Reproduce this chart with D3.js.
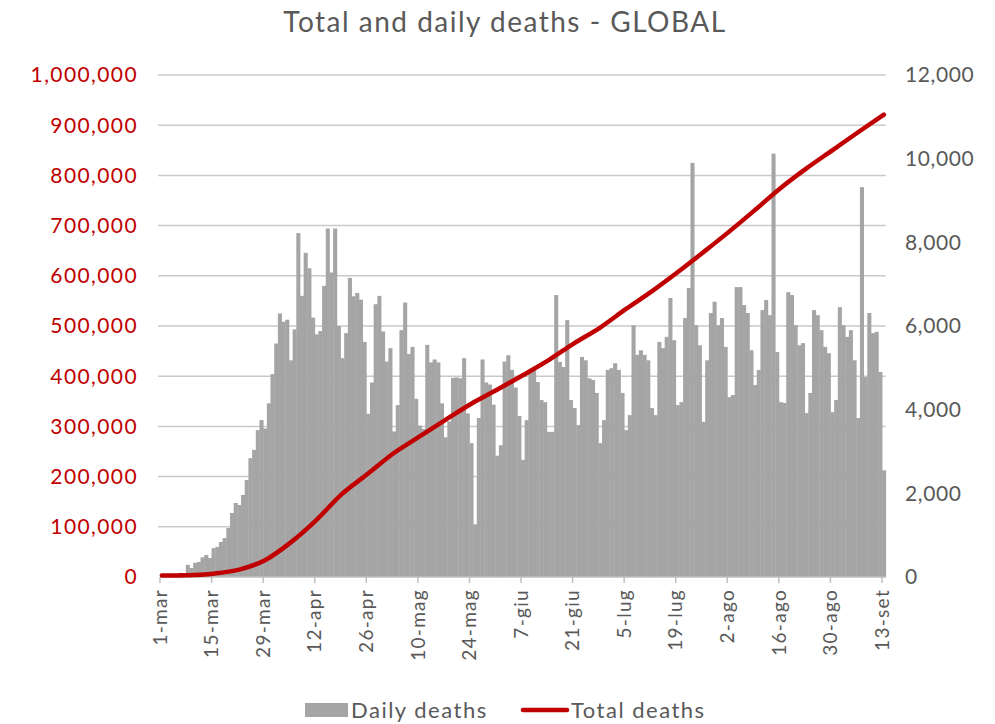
<!DOCTYPE html>
<html>
<head>
<meta charset="utf-8">
<script src="https://cdn.jsdelivr.net/npm/d3@7"></script>
<style>
  body { margin: 0; background: #fff; }
  text { font-family: Lato, "Open Sans", sans-serif; }
</style>
</head>
<body>
<svg id="chart" width="995" height="724"></svg>
<script>
const TITLE = "Total and daily deaths - GLOBAL";

// daily deaths, one per day from 1-mar to 13-set (right axis)
const dailyDeaths = [
  55, 65, 70, 80, 60, 100, 95, 290, 215, 340, 360, 470, 525, 454,
  690, 717, 837, 930, 1170, 1530, 1770, 1720, 1960, 2320, 2840, 3040, 3510, 3750,
  3550, 4150, 4850, 5580, 6300, 6100, 6150, 5180, 5920, 8220, 6720, 7750, 7380, 6200,
  5800, 5880, 6960, 8330, 7280, 8330, 6000, 5230, 5830, 7150, 6710, 6790, 6630, 5620,
  3900, 4650, 6520, 6720, 5870, 5150, 5470, 3480, 4110, 5900, 6560, 5330, 5500, 4260,
  3620, 3540, 5550, 5130, 5200, 5130, 4150, 3340, 3720, 4760, 4770, 4750, 5230, 3910,
  3200, 1260, 3800, 5200, 4650, 4600, 4120, 2900, 3150, 5150, 5300, 4950, 4530, 3850,
  2800, 3750, 4900, 5020, 4660, 4230, 4180, 3470, 3470, 6740, 5140, 5020, 6140, 4230,
  4040, 3630, 5260, 5180, 4750, 4710, 4400, 3200, 3750, 4950, 4990, 5110, 4950, 4400,
  3510, 3870, 6020, 5310, 5420, 5310, 5180, 4040, 3870, 5620, 5470, 5740, 6670, 5660,
  4110, 4180, 6190, 6910, 9900, 6020, 5540, 3710, 5180, 6310, 6580, 6020, 6190, 5500,
  4300, 4350, 6930, 6930, 6500, 6310, 5420, 4590, 4950, 6380, 6620, 6260, 10120, 5380,
  4180, 4160, 6810, 6740, 6020, 5540, 5590, 3920, 4400, 6380, 6260, 5900, 5500, 5350,
  3940, 4230, 6450, 6020, 5740, 5900, 5180, 3800, 9320, 4780, 6310, 5830, 5860, 4900, 2550
];

// total deaths read every 7 days (left axis)
const totalDays = [0, 7, 14, 21, 28, 35, 42, 49, 56, 63, 70, 77, 84, 91, 98, 105,
  112, 119, 126, 133, 140, 147, 154, 161, 168, 175, 182, 189, 196];
const totalDeaths = [3000, 3600, 6600, 14700, 33500, 69000, 114000, 166000, 206000,
  247000, 280000, 313000, 345000, 373000, 402000, 432000, 466000, 497000, 534000,
  569000, 607000, 647000, 688000, 731000, 775000, 814000, 850000, 886000, 921000];

const tickDays = [0, 14, 28, 42, 56, 70, 84, 98, 112, 126, 140, 154, 168, 182, 196];
const tickLabels = ["1-mar", "15-mar", "29-mar", "12-apr", "26-apr", "10-mag", "24-mag",
  "7-giu", "21-giu", "5-lug", "19-lug", "2-ago", "16-ago", "30-ago", "13-set"];

const leftTicks = d3.range(0, 1000001, 100000);
const rightTicks = d3.range(0, 12001, 2000);

const svg = d3.select("#chart");
const plotLeft = 160, plotRight = 885.7, plotTop = 75, plotBottom = 577;

const x = d3.scaleLinear().domain([0, dailyDeaths.length]).range([plotLeft, plotRight]);
const yL = d3.scaleLinear().domain([0, 1000000]).range([plotBottom, plotTop]);
const yR = d3.scaleLinear().domain([0, 12000]).range([plotBottom, plotTop]);
const step = x(1) - x(0);

svg.append("text")
  .attr("x", 505)
  .attr("y", 32)
  .attr("text-anchor", "middle")
  .attr("fill", "#595959")
  .attr("font-size", 28)
  .attr("letter-spacing", 1.5)
  .text(TITLE);

// gridlines
svg.append("g")
  .selectAll("line")
  .data(leftTicks.slice(1))
  .join("line")
  .attr("x1", plotLeft - 2)
  .attr("x2", plotRight)
  .attr("y1", d => yL(d))
  .attr("y2", d => yL(d))
  .attr("stroke", "#c9c9c9")
  .attr("stroke-width", 1.5);

// left axis labels
svg.append("g")
  .selectAll("text")
  .data(leftTicks)
  .join("text")
  .attr("x", 138)
  .attr("y", d => yL(d))
  .attr("dy", "0.35em")
  .attr("text-anchor", "end")
  .attr("fill", "#c00000")
  .attr("font-size", 21)
  .attr("letter-spacing", 1.4)
  .text(d => d3.format(",")(d));

// right axis labels
svg.append("g")
  .selectAll("text")
  .data(rightTicks)
  .join("text")
  .attr("x", 905)
  .attr("y", d => yR(d))
  .attr("dy", "0.35em")
  .attr("fill", "#595959")
  .attr("font-size", 21)
  .attr("letter-spacing", 0.6)
  .text(d => d3.format(",")(d));

// daily bars
svg.append("g")
  .selectAll("rect")
  .data(dailyDeaths)
  .join("rect")
  .attr("x", (d, i) => x(i))
  .attr("width", step + 0.4)
  .attr("y", d => yR(d))
  .attr("height", d => yR(0) - yR(d))
  .attr("fill", "#a5a5a5");

// x axis
svg.append("line")
  .attr("x1", plotLeft)
  .attr("x2", plotRight)
  .attr("y1", plotBottom)
  .attr("y2", plotBottom)
  .attr("stroke", "#bfbfbf")
  .attr("stroke-width", 1.5);

svg.append("g")
  .selectAll("line")
  .data(tickDays)
  .join("line")
  .attr("x1", d => x(d))
  .attr("x2", d => x(d))
  .attr("y1", plotBottom)
  .attr("y2", plotBottom + 6)
  .attr("stroke", "#bfbfbf")
  .attr("stroke-width", 1.5);

svg.append("g")
  .selectAll("text")
  .data(tickDays)
  .join("text")
  .attr("transform", d => `translate(${x(d)},${plotBottom + 12}) rotate(-90)`)
  .attr("dy", "0.35em")
  .attr("text-anchor", "end")
  .attr("fill", "#595959")
  .attr("font-size", 19)
  .attr("letter-spacing", 1.3)
  .text((d, i) => tickLabels[i]);

// total line
const line = d3.line()
  .x((d, i) => x(totalDays[i] + 0.5))
  .y(d => yL(d))
  .curve(d3.curveMonotoneX);

svg.append("path")
  .datum(totalDeaths)
  .attr("d", line)
  .attr("fill", "none")
  .attr("stroke", "#c00000")
  .attr("stroke-width", 4.5)
  .attr("stroke-linecap", "round");

// legend
const legend = svg.append("g");
legend.append("rect")
  .attr("x", 305).attr("y", 703)
  .attr("width", 43).attr("height", 14)
  .attr("fill", "#a5a5a5");
legend.append("text")
  .attr("x", 351).attr("y", 718)
  .attr("fill", "#595959").attr("font-size", 22).attr("letter-spacing", 1.5)
  .text("Daily deaths");
legend.append("line")
  .attr("x1", 523).attr("x2", 567)
  .attr("y1", 710).attr("y2", 710)
  .attr("stroke", "#c00000").attr("stroke-width", 4.5)
  .attr("stroke-linecap", "round");
legend.append("text")
  .attr("x", 571).attr("y", 718)
  .attr("fill", "#595959").attr("font-size", 22).attr("letter-spacing", 1.5)
  .text("Total deaths");
</script>
</body>
</html>
